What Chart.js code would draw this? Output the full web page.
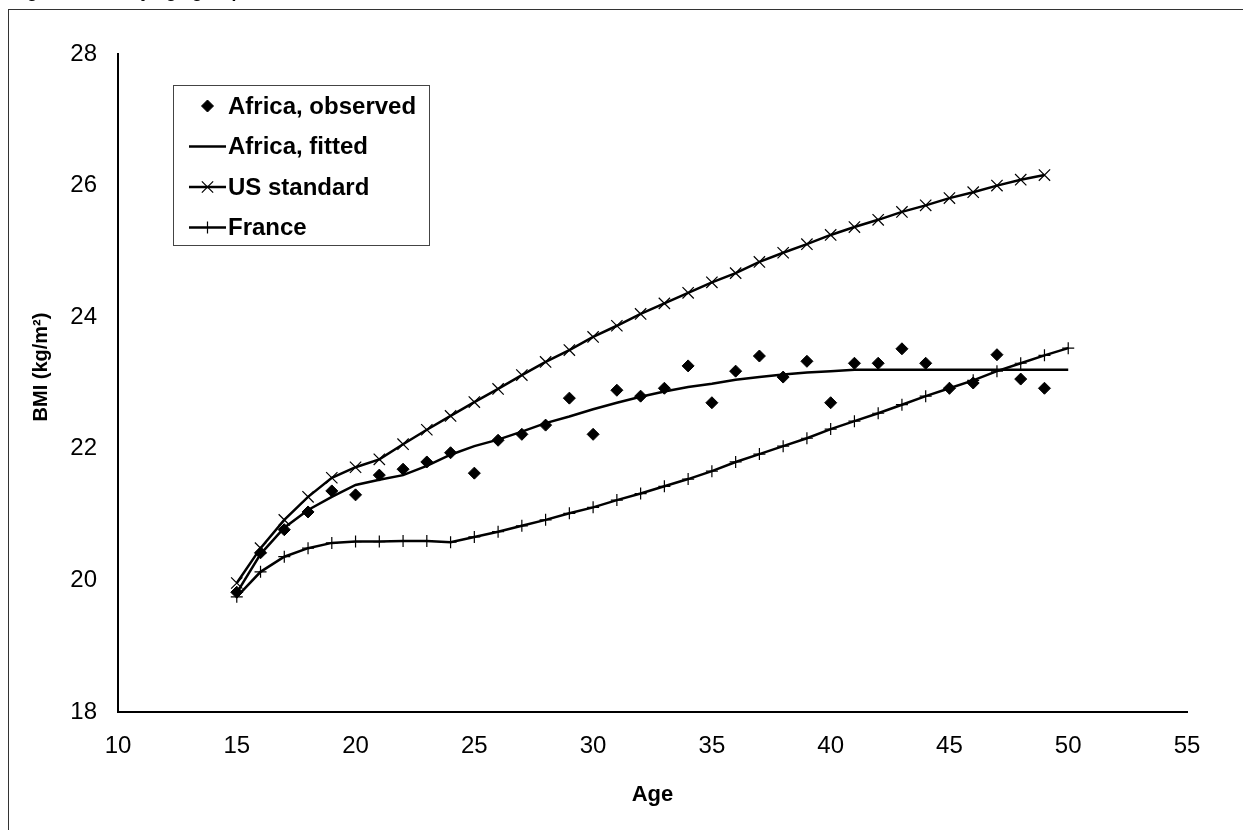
<!DOCTYPE html>
<html>
<head>
<meta charset="utf-8">
<script src="https://cdn.jsdelivr.net/npm/chart.js@4.4.0/dist/chart.umd.min.js"></script>
<style>
    html, body { margin: 0; padding: 0; background: #fff; overflow: hidden; }
    #wrap { position: relative; width: 1243px; height: 830px; overflow: hidden; }
    canvas { position: absolute; left: 0; top: 0; z-index: 1; }
    #frame {
        position: absolute; left: 8px; top: 9px; right: -10px; bottom: -10px;
        border-left: 1px solid #333; border-top: 1px solid #333;
        z-index: 2; pointer-events: none;
    }
    #title {
        position: absolute; left: 12px; top: -18px;
        font: italic bold 18px "Liberation Sans", Arial, sans-serif;
        line-height: 18px; white-space: nowrap; color: #000;
        z-index: 3;
    }
</style>
</head>
<body>
<div id="wrap">
    <canvas id="bmiChart" width="1243" height="830"></canvas>
    <div id="frame"></div>
    <div id="title">Figure 4: BMI by age group</div>
</div>
<script>
// ===============================
// DATA
// ===============================

const ages = [
    15, 16, 17, 18, 19, 20, 21, 22, 23, 24, 25, 26, 27, 28, 29, 30, 31, 32,
    33, 34, 35, 36, 37, 38, 39, 40, 41, 42, 43, 44, 45, 46, 47, 48, 49, 50
];

// ages 15..49
const africaObserved = [
    19.82, 20.42, 20.77, 21.04, 21.36, 21.30, 21.60, 21.69, 21.80, 21.94,
    21.63, 22.13, 22.22, 22.36, 22.77, 22.22, 22.89, 22.80, 22.92, 23.26,
    22.70, 23.18, 23.41, 23.09, 23.33, 22.70, 23.30, 23.30, 23.52, 23.30,
    22.92, 23.00, 23.43, 23.06, 22.92
];

// ages 15..50
const africaFitted = [
    19.81, 20.40, 20.80, 21.07, 21.27, 21.45, 21.53, 21.60, 21.74, 21.91,
    22.04, 22.14, 22.26, 22.39, 22.49, 22.60, 22.70, 22.79, 22.87, 22.94,
    22.99, 23.05, 23.09, 23.13, 23.16, 23.18, 23.20, 23.20, 23.20, 23.20,
    23.20, 23.20, 23.20, 23.20, 23.20, 23.20
];

// ages 15..49
const usStandard = [
    19.96, 20.49, 20.92, 21.27, 21.56, 21.72, 21.84, 22.07, 22.29, 22.50,
    22.71, 22.91, 23.12, 23.32, 23.50, 23.70, 23.87, 24.05, 24.21, 24.37,
    24.53, 24.67, 24.84, 24.98, 25.11, 25.25, 25.37, 25.48, 25.60, 25.70,
    25.81, 25.90, 26.00, 26.09, 26.16
];

// ages 15..50
const france = [
    19.75, 20.13, 20.36, 20.49, 20.57, 20.59, 20.59, 20.60, 20.60, 20.58,
    20.66, 20.74, 20.83, 20.92, 21.02, 21.11, 21.22, 21.32, 21.43, 21.54,
    21.66, 21.80, 21.92, 22.04, 22.16, 22.30, 22.42, 22.54, 22.67, 22.80,
    22.92, 23.04, 23.18, 23.30, 23.42, 23.53
];

const seriesLabels = ["Africa, observed", "Africa, fitted", "US standard", "France"];
const yTitle = "BMI (kg/m²)";

// ===============================
// HELPERS
// ===============================

const FONT = "'Liberation Sans', Arial, Helvetica, sans-serif";

const toPoints = (values) => values.map((v, i) => ({ x: ages[i], y: v }));

// legend drawn inside the plot, like the Excel one
const legendBox = {
    id: "legendBox",
    afterDatasetsDraw(chart) {
        const ctx = chart.ctx;
        const box = { x: 173, y: 85, w: 256, h: 160 };
        ctx.save();
        ctx.fillStyle = "#fff";
        ctx.fillRect(box.x, box.y, box.w, box.h);
        ctx.strokeStyle = "#444";
        ctx.lineWidth = 1;
        ctx.strokeRect(box.x + 0.5, box.y + 0.5, box.w, box.h);

        chart.data.datasets.forEach((ds, i) => {
            const y = box.y + 21 + i * 40.5;
            ctx.strokeStyle = "#000";
            ctx.fillStyle = "#000";
            if (ds.showLine !== false) {
                ctx.lineWidth = ds.borderWidth;
                ctx.beginPath();
                ctx.moveTo(189, y);
                ctx.lineTo(226, y);
                ctx.stroke();
            }
            if (ds.pointRadius > 0) {
                ctx.lineWidth = ds.pointBorderWidth;
                Chart.helpers.drawPoint(ctx, {
                    pointStyle: ds.pointStyle,
                    radius: ds.pointRadius,
                    borderWidth: ds.pointBorderWidth,
                    rotation: 0
                }, 207.5, y);
            }
            ctx.fillStyle = "#000";
            ctx.font = "bold 24px " + FONT;
            ctx.textAlign = "left";
            ctx.textBaseline = "middle";
            ctx.fillText(ds.label, 228, y + 1);
        });
        ctx.restore();
    }
};

// y title sits a little above the middle of the axis in the original
const yTitlePlugin = {
    id: "yTitlePlugin",
    afterDraw(chart) {
        const ctx = chart.ctx;
        ctx.save();
        ctx.translate(41, 367);
        ctx.rotate(-Math.PI / 2);
        ctx.fillStyle = "#000";
        ctx.font = "bold 20px " + FONT;
        ctx.textAlign = "center";
        ctx.textBaseline = "middle";
        ctx.fillText(yTitle, 0, 0);
        ctx.restore();
    }
};

const whiteBg = {
    id: "whiteBg",
    beforeDraw(chart) {
        const ctx = chart.ctx;
        ctx.save();
        ctx.fillStyle = "#fff";
        ctx.fillRect(0, 0, chart.width, chart.height);
        ctx.restore();
    }
};

// ===============================
// CHART
// ===============================

new Chart(document.getElementById("bmiChart"), {
    type: "line",
    data: {
        datasets: [
            {
                label: seriesLabels[0],
                data: toPoints(africaObserved),
                showLine: false,
                pointStyle: "rectRot",
                pointRadius: 6,
                pointBorderWidth: 1,
                pointBorderColor: "#000",
                pointBackgroundColor: "#000",
                borderColor: "#000"
            },
            {
                label: seriesLabels[1],
                data: toPoints(africaFitted),
                borderColor: "#000",
                borderWidth: 2.5,
                pointRadius: 0,
                tension: 0
            },
            {
                label: seriesLabels[2],
                data: toPoints(usStandard),
                borderColor: "#000",
                borderWidth: 2.5,
                pointStyle: "crossRot",
                pointRadius: 8,
                pointBorderWidth: 1.2,
                pointBorderColor: "#000",
                tension: 0
            },
            {
                label: seriesLabels[3],
                data: toPoints(france),
                borderColor: "#000",
                borderWidth: 2.5,
                pointStyle: "cross",
                pointRadius: 6,
                pointBorderWidth: 1.2,
                pointBorderColor: "#000",
                tension: 0
            }
        ]
    },
    options: {
        responsive: false,
        animation: false,
        layout: { padding: { left: 0, top: 54, right: 56, bottom: 0 } },
        plugins: {
            legend: { display: false },
            tooltip: { enabled: false }
        },
        scales: {
            x: {
                type: "linear",
                min: 10,
                max: 55,
                ticks: {
                    stepSize: 5,
                    color: "#000",
                    font: { family: FONT, size: 24 },
                    padding: 20,
                    maxRotation: 0
                },
                grid: { display: false, drawTicks: false },
                border: { color: "#000", width: 2 },
                title: {
                    display: true,
                    text: "Age",
                    color: "#000",
                    font: { family: FONT, size: 22, weight: "bold" },
                    padding: { top: 0, bottom: 22 }
                },
                afterFit(scale) { scale.height = 118; }
            },
            y: {
                min: 18,
                max: 28,
                ticks: {
                    stepSize: 2,
                    color: "#000",
                    font: { family: FONT, size: 24 },
                    padding: 21
                },
                grid: { display: false, drawTicks: false },
                border: { color: "#000", width: 2 },
                afterFit(scale) { scale.width = 118; }
            }
        }
    },
    plugins: [whiteBg, legendBox, yTitlePlugin]
});
</script>
</body>
</html>
